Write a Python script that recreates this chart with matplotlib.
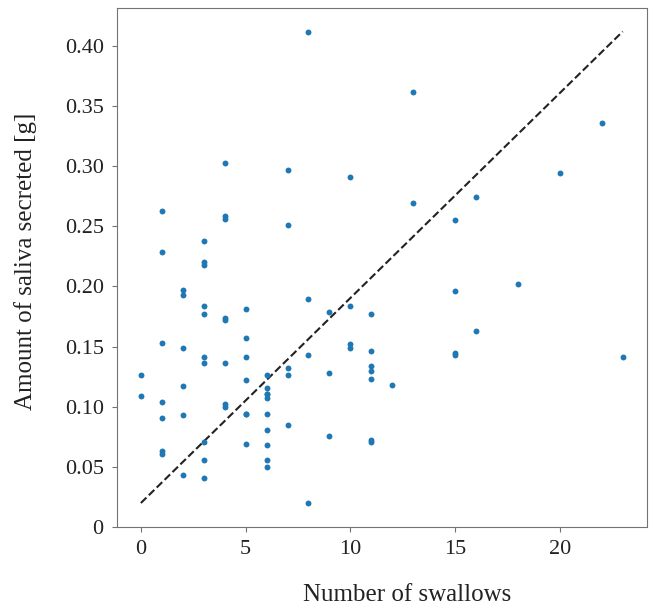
import matplotlib
matplotlib.use("Agg")
import matplotlib.pyplot as plt

# datos: número de tragos vs saliva secretada [g]
swallows = [
    0, 0,
    1, 1, 1, 1, 1, 1, 1,
    2, 2, 2, 2, 2, 2,
    3, 3, 3, 3, 3, 3, 3, 3, 3, 3,
    4, 4, 4, 4, 4, 4, 4, 4,
    5, 5, 5, 5, 5, 5, 5,
    6, 6, 6, 6, 6, 6, 6, 6, 6, 6,
    7, 7, 7, 7, 7,
    8, 8, 8, 8,
    9, 9, 9,
    10, 10, 10, 10,
    11, 11, 11, 11, 11, 11, 11,
    12,
    13, 13,
    15, 15, 15, 15,
    16, 16,
    18, 20, 22, 23,
]
saliva = [
    0.126, 0.109,
    0.263, 0.229, 0.153, 0.104, 0.091, 0.063, 0.061,
    0.197, 0.193, 0.149, 0.117, 0.093, 0.043,
    0.238, 0.220, 0.218, 0.184, 0.177, 0.141, 0.136, 0.071, 0.056, 0.041,
    0.303, 0.259, 0.256, 0.174, 0.172, 0.136, 0.102, 0.100,
    0.181, 0.157, 0.141, 0.122, 0.094, 0.069, 0.094,
    0.126, 0.116, 0.111, 0.107, 0.094, 0.081, 0.068, 0.056, 0.050, 0.111,
    0.297, 0.251, 0.132, 0.126, 0.085,
    0.412, 0.190, 0.143, 0.020,
    0.179, 0.128, 0.076,
    0.291, 0.184, 0.152, 0.149,
    0.177, 0.146, 0.134, 0.130, 0.123, 0.071, 0.072,
    0.118,
    0.362, 0.269,
    0.255, 0.196, 0.143, 0.145,
    0.274, 0.163,
    0.202, 0.294, 0.336, 0.141,
]

# recta de referencia (extremos)
line_x = [0, 23]
line_y = [0.020, 0.412]

yticks = [0, 0.05, 0.10, 0.15, 0.20, 0.25, 0.30, 0.35, 0.40]
ytick_labels = ["0", "0.05", "0.10", "0.15", "0.20", "0.25", "0.30", "0.35", "0.40"]
xticks = [0, 5, 10, 15, 20]

plt.rcParams['font.family'] = ['Liberation Serif', 'DejaVu Serif']

fig, ax = plt.subplots(figsize=(6.6, 6.1), dpi=100)
fig.subplots_adjust(left=0.177, right=0.980, top=0.987, bottom=0.136)

ax.scatter(swallows, saliva, s=18, color='#1f77b4', linewidths=0, zorder=3)
ax.plot(line_x, line_y, linestyle='--', color='#222222', linewidth=1.5, zorder=2)

ax.set_ylim(0, None)
ax.set_xticks(xticks)
ax.set_yticks(yticks)
ax.set_yticklabels(ytick_labels)
ax.tick_params(labelsize=16, pad=6, color='0.45', labelcolor='#222222')
for s in ax.spines.values():
    s.set_color('0.45')

ax.set_xlabel("Number of swallows", fontsize=18, labelpad=18, color='#222222')
ax.set_ylabel("Amount of saliva secreted [g]", fontsize=18, labelpad=20, color='#222222')
# las etiquetas no quedan centradas en el original
ax.xaxis.label.set_x(0.547)
ax.yaxis.label.set_y(0.511)

fig.savefig("out.png", dpi=100)
